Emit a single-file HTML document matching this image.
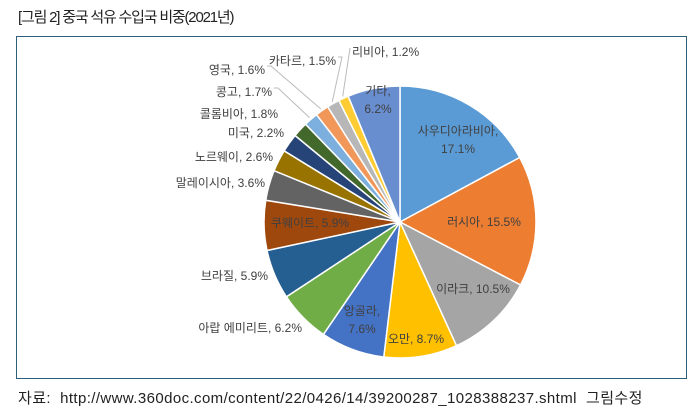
<!DOCTYPE html>
<html><head><meta charset="utf-8"><style>
body{margin:0;background:#fff;width:693px;height:413px;overflow:hidden;font-family:"Liberation Sans","Noto Sans CJK KR",sans-serif}
#title{position:absolute;left:18px;top:6px;font-size:15px;color:#222;font-family:"Liberation Sans Narrow","Liberation Sans","Noto Sans CJK KR",sans-serif;letter-spacing:-1.2px}
#box{position:absolute;left:16px;top:36px;width:669px;height:341px;border:1px solid #2d5f7a}
#src{position:absolute;left:18px;top:387px;font-size:15px;color:#222;letter-spacing:0.4px}
</style></head><body>
<div id="title">[그림 2] 중국 석유 수입국 비중(2021년)</div>
<div id="box"></div>
<svg id="chart" width="693" height="413" style="position:absolute;left:0;top:0"></svg>
<div id="src">자료: &nbsp;http://www.360doc.com/content/22/0426/14/39200287_1028388237.shtml &nbsp;그림수정</div>
<script>
const categories=["사우디아라비아","러시아","이라크","오만","앙골라","아랍 에미리트","브라질","쿠웨이트","말레이시아","노르웨이","미국","콜롬비아","콩고","영국","카타르","리비아","기타"];
const values=[17.1,15.5,10.5,8.7,7.6,6.2,5.9,5.9,3.6,2.6,2.2,1.8,1.7,1.6,1.5,1.2,6.2];
const colors=["#5B9BD5","#ED7D31","#A5A5A5","#FFC000","#4472C4","#70AD47","#255E91","#9E480E","#636363","#997300","#264478","#43682B","#7CAFDD","#F1975A","#B7B7B7","#FFCD33","#698ED0"];
// label layout: [x, y, anchor, twoLines, leader]
const labelPos=[[458,140,"middle",1,0],[484,222,"middle",0,0],[473,289,"middle",0,0],[416,339,"middle",0,0],[362,320,"middle",1,0],[302,328,"end",0,0],[268,276,"end",0,0],[310,223,"middle",0,0],[265,183,"end",0,0],[273,157,"end",0,0],[284,133,"end",0,0],[278,114,"end",0,0],[272,92,"end",0,1],[265,70,"end",0,1],[336,61,"end",0,1],[352,52,"start",0,1],[378,100,"middle",1,0]];
const svg=document.getElementById('chart');
const NS="http://www.w3.org/2000/svg";
const cx=400,cy=222,r=136;
const total=values.reduce((a,b)=>a+b,0);
let a0=0;
values.forEach((v,i)=>{
  const a1=a0+v/total*2*Math.PI;
  const p=(a)=>[cx+r*Math.sin(a),cy-r*Math.cos(a)];
  const [x0,y0]=p(a0),[x1,y1]=p(a1);
  const path=document.createElementNS(NS,'path');
  path.setAttribute('d',`M${cx},${cy}L${x0},${y0}A${r},${r} 0 ${a1-a0>Math.PI?1:0} 1 ${x1},${y1}Z`);
  path.setAttribute('fill',colors[i]);path.setAttribute('stroke','#fff');path.setAttribute('stroke-width','1.5');
  
  
  svg.appendChild(path);
  const L=labelPos[i];const txt=categories[i]+", "+v.toFixed(1)+"%";
  if(L[4]){
    const am=(a0+a1)/2;const [ex,ey]=[cx+(r+2)*Math.sin(am),cy-(r+2)*Math.cos(am)];
    const sx=L[2]=="start"?L[0]-2:L[0]+2;
    const ln=document.createElementNS(NS,'polyline');
    ln.setAttribute('points',`${sx},${L[1]-4} ${sx+(L[2]=="start"?0:4)},${L[1]-4} ${ex},${ey}`);
    ln.setAttribute('fill','none');ln.setAttribute('stroke','#bbb');ln.setAttribute('stroke-width','1');
    
    
    svg.appendChild(ln);
  }
  const t=document.createElementNS(NS,'text');
  t.setAttribute('x',L[0]);t.setAttribute('y',L[1]+4);t.setAttribute('text-anchor',L[2]);
  t.setAttribute('font-size','12');t.setAttribute('fill','#404040');
  t.setAttribute('font-family','"Liberation Sans","Noto Sans CJK KR",sans-serif');
  if(L[3]){
    const s1=document.createElementNS(NS,'tspan');s1.setAttribute('x',L[0]);s1.setAttribute('dy','-9');s1.textContent=categories[i]+",";
    const s2=document.createElementNS(NS,'tspan');s2.setAttribute('x',L[0]);s2.setAttribute('dy','18');s2.textContent=v.toFixed(1)+"%";
    t.appendChild(s1);t.appendChild(s2);
  } else t.textContent=txt;
  
  
  svg.appendChild(t);
  a0=a1;
});
</script>
</body></html>
